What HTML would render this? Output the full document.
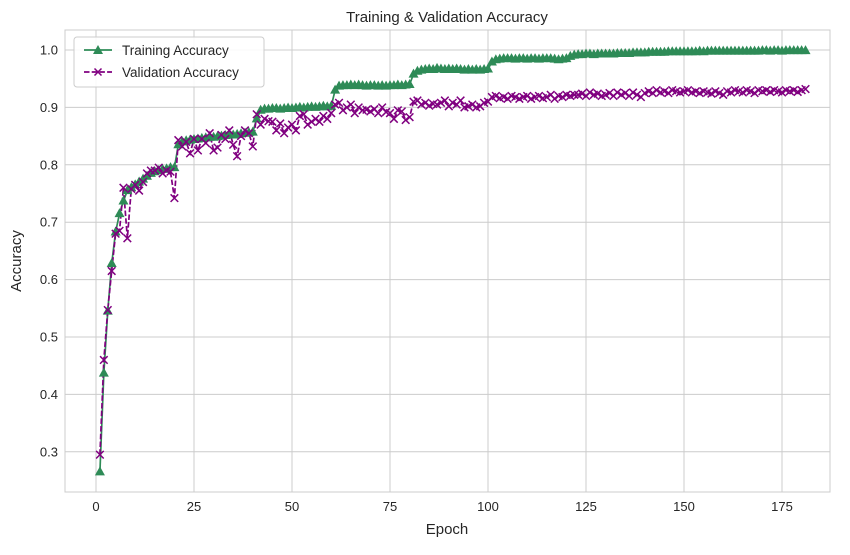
<!DOCTYPE html>
<html><head><meta charset="utf-8"><style>
body{margin:0;background:#fff;font-family:"Liberation Sans","DejaVu Sans",sans-serif}
svg text{font-family:"Liberation Sans","DejaVu Sans",sans-serif;fill:#262626}
</style></head><body>
<svg id="chart" width="850" height="550" xmlns="http://www.w3.org/2000/svg">
<rect width="850" height="550" fill="#fff"/>
<g id="grid"></g><g id="series"></g><g id="ticks"></g>
<rect x="65" y="30" width="765" height="462" fill="none" stroke="#cccccc" stroke-width="1"/>
<text x="447" y="22" text-anchor="middle" font-size="15">Training &amp; Validation Accuracy</text>
<text x="447" y="534" text-anchor="middle" font-size="15">Epoch</text>
<text transform="translate(21,261) rotate(-90)" text-anchor="middle" font-size="15">Accuracy</text>
<g>
<rect x="74" y="37" width="190" height="50" rx="3" fill="#fff" fill-opacity="0.85" stroke="#ccc"/>
<g>
<line x1="84" y1="50" x2="112" y2="50" stroke="#2e8b57" stroke-width="1.7"/>
<polygon points="98,45 103,54 93,54" fill="#2e8b57"/>
<text x="122" y="55" font-size="13.5">Training Accuracy</text></g>
<g>
<line x1="84" y1="72" x2="112" y2="72" stroke="#800080" stroke-width="1.7" stroke-dasharray="5.5,2.2"/>
<path d="M94.5,68.5 L101.5,75.5 M101.5,68.5 L94.5,75.5" stroke="#800080" stroke-width="1.5"/>
<text x="122" y="77" font-size="13.5">Validation Accuracy</text></g>
</g>
</svg>
<script>
const train=[.265,.437,.545,.628,.683,.715,.737,.755,.760,.765,
.770,.775,.780,.785,.788,.790,.792,.793,.795,.795,
.835,.840,.842,.843,.844,.845,.846,.847,.848,.848,
.849,.850,.851,.852,.852,.853,.854,.855,.856,.857,
.880,.895,.897,.897,.898,.898,.897,.898,.899,.898,
.899,.900,.899,.900,.901,.900,.901,.902,.901,.902,
.930,.937,.938,.938,.939,.938,.939,.938,.937,.938,
.938,.937,.938,.937,.938,.938,.939,.938,.939,.940,
.958,.963,.965,.966,.967,.966,.968,.967,.966,.967,
.966,.967,.966,.965,.966,.965,.966,.965,.966,.967,
.979,.983,.984,.985,.985,.985,.984,.985,.985,.984,
.985,.985,.984,.985,.985,.985,.984,.983,.984,.985,
.989,.991,.992,.992,.993,.993,.992,.993,.993,.993,
.993,.993,.994,.994,.994,.994,.995,.995,.995,.995,
.996,.996,.996,.996,.996,.997,.997,.997,.997,.997,
.997,.997,.997,.998,.997,.998,.998,.998,.998,.998,
.998,.998,.998,.998,.998,.998,.998,.998,.998,.999,
.999,.998,.999,.999,.998,.999,.999,.999,.999,.999,.999];
const val=[.295,.460,.547,.615,.680,.685,.760,.672,.758,.765,
.755,.770,.785,.790,.790,.795,.785,.790,.788,.742,
.843,.832,.840,.820,.845,.825,.845,.838,.855,.825,
.830,.852,.845,.860,.835,.815,.850,.860,.855,.832,
.888,.870,.880,.876,.875,.860,.872,.855,.865,.870,
.860,.885,.888,.870,.875,.880,.875,.885,.880,.890,
.905,.908,.895,.900,.905,.890,.900,.895,.896,.893,
.897,.890,.900,.892,.890,.880,.895,.893,.878,.883,
.910,.912,.905,.908,.903,.906,.905,.908,.912,.902,
.908,.905,.912,.900,.902,.905,.900,.902,.908,.910,
.918,.920,.916,.918,.915,.920,.918,.915,.918,.920,
.915,.918,.920,.916,.918,.922,.915,.920,.918,.922,
.920,.922,.922,.924,.920,.926,.922,.924,.920,.922,
.925,.920,.926,.922,.925,.920,.926,.922,.918,.925,
.928,.925,.930,.926,.928,.925,.930,.928,.926,.928,
.930,.926,.928,.925,.928,.926,.924,.928,.925,.922,
.928,.926,.930,.928,.926,.930,.928,.925,.930,.928,
.930,.927,.930,.928,.926,.930,.928,.930,.927,.930,.932];
const xTicks=[0,25,50,75,100,125,150,175];
const yTicks=[0.3,0.4,0.5,0.6,0.7,0.8,0.9,1.0];
const NS='http://www.w3.org/2000/svg';
const X=e=>96+e*3.92, Y=v=>50+(1-v)*574;
function mk(tag,attrs,parent){const el=document.createElementNS(NS,tag);for(const k in attrs)el.setAttribute(k,attrs[k]);parent.appendChild(el);return el;}
const grid=document.getElementById('grid'),ticks=document.getElementById('ticks'),ser=document.getElementById('series');
xTicks.forEach(t=>{const l=mk('line',{x1:X(t),x2:X(t),y1:30,y2:492,stroke:'#cccccc','stroke-width':1},grid);


const tx=mk('text',{x:X(t),y:511,'text-anchor':'middle','font-size':13},ticks);tx.textContent=t;

});
yTicks.forEach(t=>{const l=mk('line',{x1:65,x2:830,y1:Y(t),y2:Y(t),stroke:'#cccccc','stroke-width':1},grid);


const tx=mk('text',{x:58,y:Y(t)+4.5,'text-anchor':'end','font-size':13},ticks);tx.textContent=t.toFixed(1);

});
const tp=train.map((v,i)=>X(i+1)+','+Y(v)).join(' ');
const tl=mk('polyline',{points:tp,fill:'none',stroke:'#2e8b57','stroke-width':1.7},ser);


const vp=val.map((v,i)=>X(i+1)+','+Y(v)).join(' ');
const vl=mk('polyline',{points:vp,fill:'none',stroke:'#800080','stroke-width':1.7,'stroke-dasharray':'5.5,2.2'},ser);


train.forEach((v,i)=>{const x=X(i+1),y=Y(v);
const p=mk('polygon',{points:`${x},${y-5.5} ${x+5},${y+3.5} ${x-5},${y+3.5}`,fill:'#2e8b57'},ser);

});
val.forEach((v,i)=>{const x=X(i+1),y=Y(v);
const p=mk('path',{d:`M${x-3.8},${y-3.8}L${x+3.8},${y+3.8}M${x+3.8},${y-3.8}L${x-3.8},${y+3.8}`,stroke:'#800080','stroke-width':1.5},ser);

});
</script>
</body></html>
